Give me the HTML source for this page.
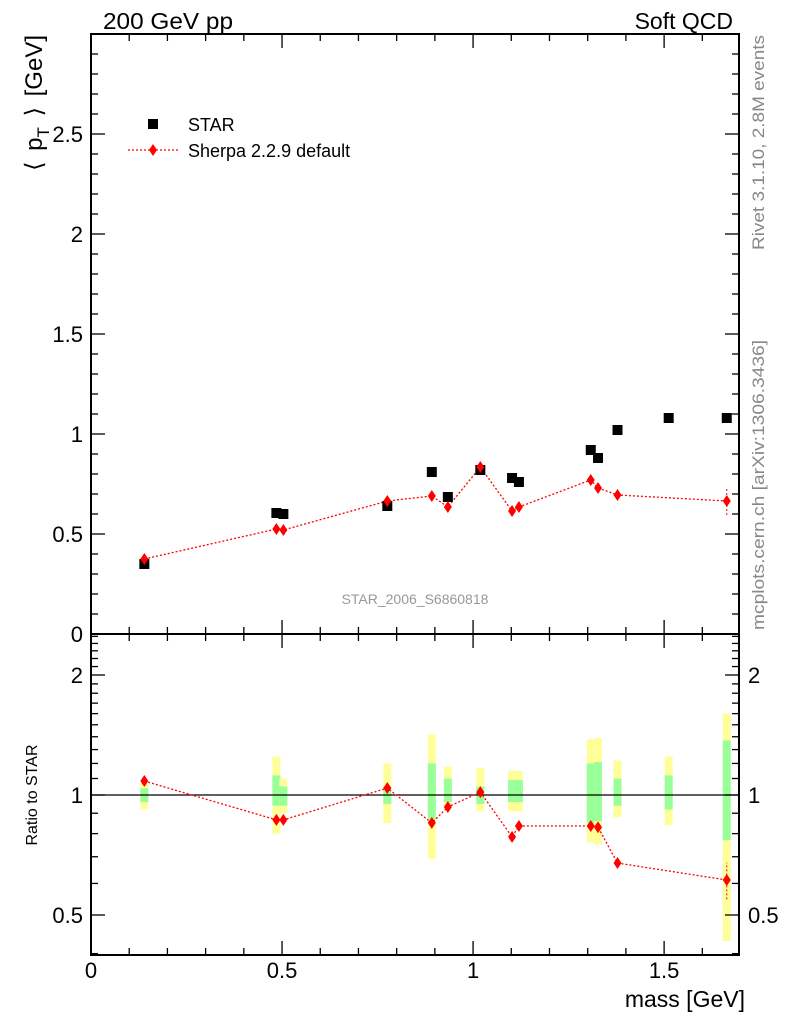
<!DOCTYPE html>
<html><head><meta charset="utf-8"><style>
html,body{margin:0;padding:0;background:#fff;}
svg{display:block;font-family:"Liberation Sans",sans-serif;}
</style></head><body>
<svg id="c" width="786" height="1024" xmlns="http://www.w3.org/2000/svg">
<text x="103" y="29" font-size="23" textLength="130" lengthAdjust="spacingAndGlyphs">200 GeV pp</text>
<text x="733" y="29" font-size="23" text-anchor="end">Soft QCD</text>
<text transform="translate(764,250) rotate(-90)" font-size="17" fill="#888" textLength="215" lengthAdjust="spacingAndGlyphs">Rivet 3.1.10,  2.8M events</text>
<text transform="translate(764,630) rotate(-90)" font-size="17" fill="#888" textLength="290" lengthAdjust="spacingAndGlyphs">mcplots.cern.ch [arXiv:1306.3436]</text>
<text transform="translate(42,35) rotate(-90)" font-size="24" text-anchor="end" word-spacing="4">⟨ p<tspan font-size="17" dy="7">T</tspan><tspan dy="-7"> ⟩  [GeV]</tspan></text>
<text transform="translate(37,795) rotate(-90)" font-size="16" text-anchor="middle">Ratio to STAR</text>
<text x="745" y="1007" font-size="23" text-anchor="end">mass [GeV]</text>
<text x="415" y="604" font-size="14" fill="#999" text-anchor="middle">STAR_2006_S6860818</text>
<g>
<rect x="148" y="119" width="10" height="10" fill="#000"/>
<text x="188" y="131" font-size="18">STAR</text>
<line x1="128" y1="150" x2="178" y2="150" stroke="red" stroke-dasharray="2,2" stroke-width="1.3"/>
<path d="M153,144 L157,150 L153,156 L149,150 Z" fill="red"/>
<text x="188" y="157" font-size="18">Sherpa 2.2.9 default</text>
</g>
<g id="g"></g>
</svg>
<script>
const masses=[0.1396,0.4852,0.5035,0.7755,0.892,0.934,1.019,1.102,1.12,1.308,1.327,1.378,1.512,1.664];
const starVals=[0.35,0.605,0.60,0.64,0.81,0.685,0.82,0.78,0.76,0.92,0.88,1.02,1.08,1.08];
const sherpaVals=[0.375,0.525,0.52,0.665,0.69,0.635,0.835,0.615,0.635,0.77,0.73,0.695,null,0.665];
const sherpaErr=[0,0,0,0,0,0,0,0,0,0,0,0,0,0.07];
const ratioVals=[1.084,0.866,0.866,1.041,0.851,0.933,1.017,0.785,0.836,0.836,0.83,0.675,null,0.612];
const greenHi=[1.04,1.12,1.05,1.05,1.2,1.1,1.05,1.09,1.09,1.2,1.21,1.1,1.12,1.37];
const greenLo=[0.96,0.94,0.94,0.95,0.87,0.96,0.95,0.96,0.96,0.85,0.86,0.94,0.92,0.77];
const yellowHi=[1.07,1.25,1.10,1.2,1.42,1.18,1.17,1.15,1.15,1.38,1.39,1.22,1.25,1.6];
const yellowLo=[0.92,0.8,0.9,0.85,0.69,0.92,0.91,0.91,0.91,0.76,0.75,0.88,0.84,0.43];
const xTicks=[0,0.5,1,1.5];
const yTicks=[0,0.5,1,1.5,2,2.5];
const rTicks=[0.5,1,2];

const L=91,R=739,T=34,MB=634,RB=955;
const XMAX=1.696;
const X=v=>L+(R-L)*v/XMAX;
const Y=v=>MB-(MB-T)*v/3.0;
const RY=v=>795-120*Math.log2(v);
const ns="http://www.w3.org/2000/svg";
const g=document.getElementById('g');
function mk(t,a){const e=document.createElementNS(ns,t);for(const k in a)e.setAttribute(k,a[k]);g.appendChild(e);return e;}

masses.forEach((m,i)=>{
 const y=mk('rect',{x:X(m)-4,y:RY(yellowHi[i]),width:8,height:RY(yellowLo[i])-RY(yellowHi[i]),fill:'#ffff99'});
 
 
 const gr=mk('rect',{x:X(m)-4,y:RY(greenHi[i]),width:8,height:RY(greenLo[i])-RY(greenHi[i]),fill:'#99ff99'});
 
 
});
const one=mk('line',{x1:L,x2:R,y1:RY(1),y2:RY(1),stroke:'#000','stroke-width':1.2});



[[T,MB],[MB,RB]].forEach(([a,b],k)=>{
 const f=mk('rect',{x:L,y:a,width:R-L,height:b-a,fill:'none',stroke:'#000','stroke-width':2});
 
 
});
for(let i=0;i<=16;i++){const v=i/10;const maj=i%5==0;const len=maj?14:7;
 [[T,1],[MB,-1],[MB,1],[RB,-1]].forEach(([y0,d])=>{
  const t=mk('line',{x1:X(v),x2:X(v),y1:y0,y2:y0+d*len,stroke:'#000','stroke-width':1.3});
  
  
 });
}
xTicks.forEach(v=>{const t=mk('text',{x:X(v),y:978,'font-size':22,'text-anchor':'middle'});t.textContent=v;
 
 });
for(let i=0;i<30;i++){const v=i/10;const maj=i%5==0;const len=maj?14:7;
 [[L,1],[R,-1]].forEach(([x0,d])=>{
  const t=mk('line',{x1:x0,x2:x0+d*len,y1:Y(v),y2:Y(v),stroke:'#000','stroke-width':1.3});
  
  
 });
}
yTicks.forEach(v=>{const t=mk('text',{x:83,y:Y(v)+8,'font-size':22,'text-anchor':'end'});t.textContent=v;
 
 });
const rminor=[0.4,0.5,0.6,0.7,0.8,0.9,1,1.1,1.2,1.3,1.4,1.5,1.6,1.7,1.8,1.9,2,2.1,2.2,2.3,2.4,2.5];
rminor.forEach(v=>{const maj=rTicks.includes(v);const len=maj?14:7;const y=RY(v);if(y<MB||y>RB)return;
 [[L,1],[R,-1]].forEach(([x0,d])=>{
  const t=mk('line',{x1:x0,x2:x0+d*len,y1:y,y2:y,stroke:'#000','stroke-width':1.3});
  
  
 });
});
rTicks.forEach(v=>{
 const a=mk('text',{x:83,y:RY(v)+8,'font-size':22,'text-anchor':'end'});a.textContent=v;
 
 
 const b=mk('text',{x:748,y:RY(v)+8,'font-size':22});b.textContent=v;
 
 
});
function line(vals,fy,name){let p=[];masses.forEach((m,i)=>{if(vals[i]!=null)p.push(X(m)+','+fy(vals[i]));});
 const e=mk('polyline',{points:p.join(' '),fill:'none',stroke:'red','stroke-dasharray':'2,2','stroke-width':1.3});
 
 }
line(sherpaVals,Y,'sherpa-line');
line(ratioVals,RY,'sherpa-ratio-line');
function dia(x,y,name){const e=mk('path',{d:`M${x},${y-6} L${x+4},${y} L${x},${y+6} L${x-4},${y} Z`,fill:'red'});
 
 }
masses.forEach((m,i)=>{
 const s=mk('rect',{x:X(m)-5,y:Y(starVals[i])-5,width:10,height:10,fill:'#000'});
 
 
 if(sherpaVals[i]!=null){
  if(sherpaErr[i]>0){
   const e=mk('line',{x1:X(m),x2:X(m),y1:Y(sherpaVals[i]-sherpaErr[i]),y2:Y(sherpaVals[i]+sherpaErr[i]),stroke:'red','stroke-dasharray':'2,2'});
   
   
   const r=ratioVals[i],re=sherpaErr[i]/starVals[i];
   const e2=mk('line',{x1:X(m),x2:X(m),y1:RY(r-re),y2:RY(r+re),stroke:'red','stroke-dasharray':'2,2'});
   
   
  }
  dia(X(m),Y(sherpaVals[i]),'sherpa-point');
  dia(X(m),RY(ratioVals[i]),'ratio-point');
 }
});
</script>
</body></html>
